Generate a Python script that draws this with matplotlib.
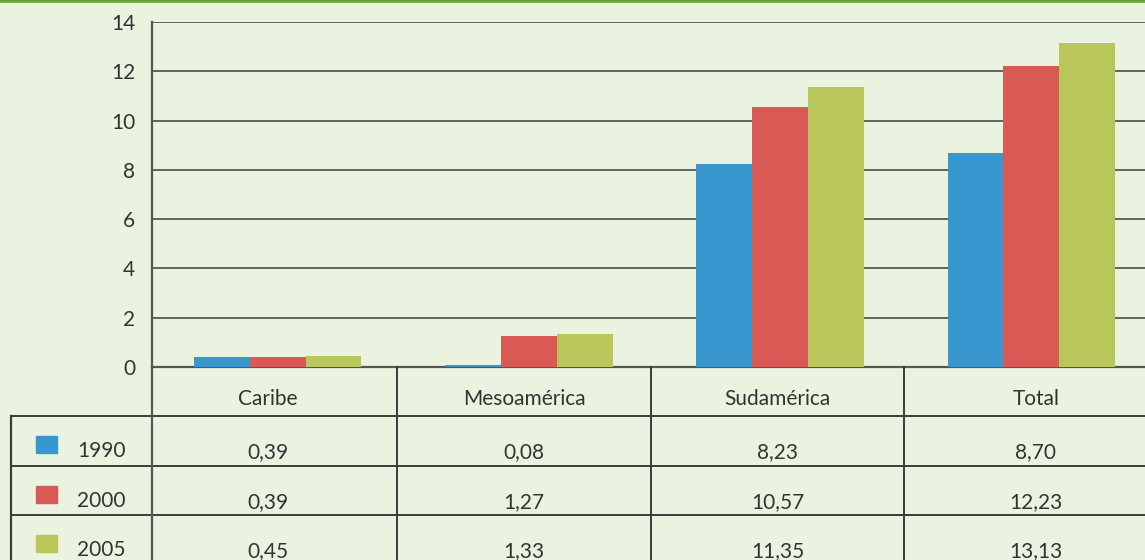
import numpy as np
import matplotlib
matplotlib.use('Agg')
import matplotlib.pyplot as plt
from matplotlib.patches import Rectangle

regions = ['Caribe', 'Mesoamérica', 'Sudamérica', 'Total']
years = ['1990', '2000', '2005']
v1990 = [0.39, 0.08, 8.23, 8.70]
v2000 = [0.39, 1.27, 10.57, 12.23]
v2005 = [0.45, 1.33, 11.35, 13.13]
series = [v1990, v2000, v2005]
colors = ['#3897CE', '#D95955', '#B8C65A']

BG = '#EAF3DF'
LINE = '#3c3c3c'
TXT = '#333333'
W, H = 1145, 560
FS = 15

plt.rcParams['font.family'] = ['Lato', 'DejaVu Sans']

fig = plt.figure(figsize=(W / 100, H / 100), dpi=100, facecolor=BG)

# bar area in pixels: left 152, top 22, bottom 367 (runs past the right edge)
ax = fig.add_axes([152 / W, (H - 367) / H, 1005 / W, 345 / H])
ax.set_facecolor(BG)
x = np.arange(len(regions))
bw = 0.222
for i, vals in enumerate(series):
    ax.bar(x + (i - 1) * bw, vals, width=bw, color=colors[i], zorder=3)
ax.set_xlim(-0.5, 3.5)
ax.set_ylim(0, 14)
ax.set_yticks(np.arange(0, 15, 2))
ax.set_xticks([])
ax.yaxis.grid(True, color=LINE, linewidth=1.1)
ax.set_axisbelow(True)
for s in ['top', 'right']:
    ax.spines[s].set_visible(False)
ax.spines['left'].set_color('#555555')
ax.spines['left'].set_linewidth(1.6)
ax.spines['bottom'].set_color('#555555')
ax.spines['bottom'].set_linewidth(1.6)
ax.tick_params(axis='y', length=0, pad=12, labelsize=FS, labelcolor=TXT)

# table underneath, drawn in pixel coordinates
tab = fig.add_axes([0, 0, 1, 1])
tab.set_xlim(0, W)
tab.set_ylim(H, 0)
tab.axis('off')
tab.patch.set_visible(False)

tab.plot([0, W], [1.2, 1.2], color='#6BA33A', linewidth=2.6)

col_edges = [152, 397, 651, 904, 1168]
row_tops = [416, 466, 515]
for y in row_tops:
    tab.plot([11, W], [y, y], color=LINE, linewidth=1.4)
tab.plot([11, 11], [416, H], color=LINE, linewidth=1.6)
tab.plot([152, 152], [367, H], color='#555555', linewidth=1.6)
for xe in col_edges[1:-1]:
    tab.plot([xe, xe], [367, H], color=LINE, linewidth=1.4)

centers = [(a + b) / 2 for a, b in zip(col_edges[:-1], col_edges[1:])]
centers[0] -= 7
for cx, name in zip(centers, regions):
    tab.text(cx, 405, name, ha='center', va='baseline', fontsize=FS, color=TXT)

for top, yr, vals, c in zip(row_tops, years, series, colors):
    tab.add_patch(Rectangle((36, top + 20), 21, 17, color=c))
    tab.text(77, top + 41, yr, ha='left', va='baseline', fontsize=FS, color=TXT)
    for cx, v in zip(centers, vals):
        tab.text(cx, top + 42, f'{v:.2f}'.replace('.', ','), ha='center',
                 va='baseline', fontsize=FS, color=TXT)

fig.savefig('out.png', dpi=100, facecolor=BG)
